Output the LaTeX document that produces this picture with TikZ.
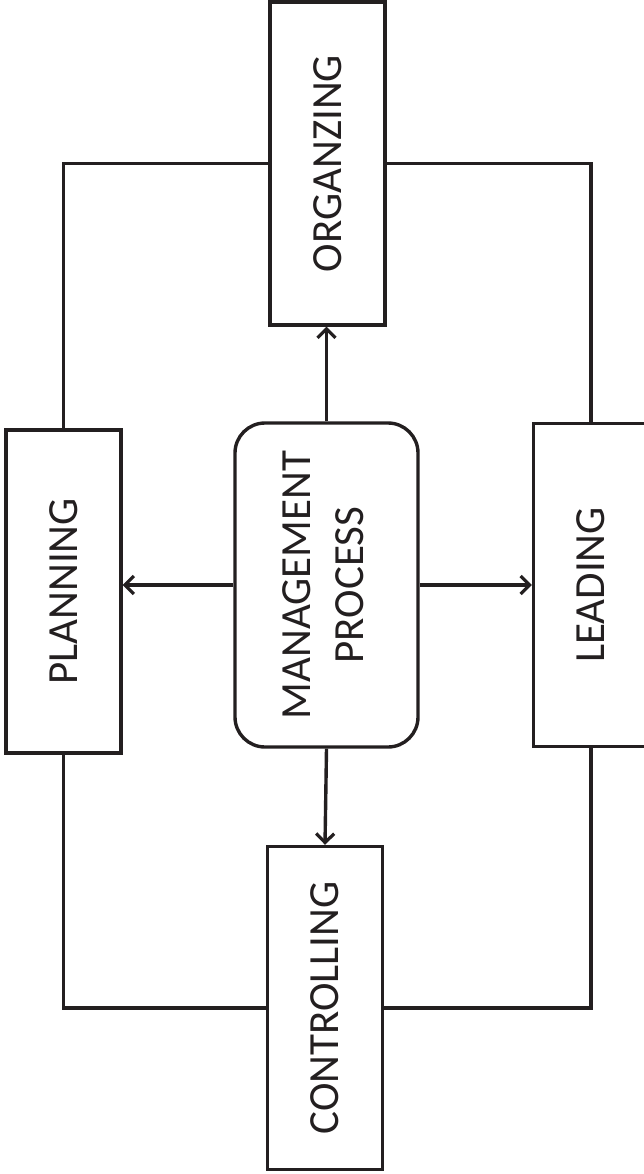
\documentclass[tikz,border=0pt]{standalone}
\usepackage{fontspec}
\setmainfont{Carlito}
\usepackage{graphicx}
\usetikzlibrary{arrows.meta}
\definecolor{ink}{HTML}{231F20}
\tikzset{
  box/.style={draw=ink, line width=3.4pt, inner sep=0pt, font=\fontsize{43}{53}\selectfont, text=ink},
  stage/.style={box, minimum width=115pt, minimum height=323pt},
  core/.style={box, rounded corners=30pt, minimum width=183pt, minimum height=324pt},
  link/.style={draw=ink, line width=3.4pt},
  flow/.style={link, -{Straight Barb[length=9pt,width=18pt,line width=3.2pt]}}
}
\begin{document}
\begin{tikzpicture}[x=1pt,y=-1pt]
  \useasboundingbox (0,0) rectangle (644,1174);
  \clip (0,0) rectangle (644,1174);
  % the four stages around the central process
  \node[stage] (org)  at (327.5,163.5) {\rotatebox{90}{ORGANZING}};
  \node[stage] (plan) at (63.5,591.5)  {\rotatebox{90}{PLANNING}};
  \node[stage] (lead) at (591,585)     {\rotatebox{90}{LEADING}};
  \node[stage] (ctrl) at (325,1008)    {\rotatebox{90}{CONTROLLING}};
  \node[core]  (mp)   at (326.5,585)
    {\rotatebox{90}{\begin{tabular}{@{}c@{}}MANAGEMENT\\PROCESS\end{tabular}}};
  % outer cycle linking the stages
  \draw[link] (org.west) -| (plan.north);
  \draw[link] (org.east) -| (lead.north);
  \draw[link] (ctrl.west) -| (plan.south);
  \draw[link] (ctrl.east) -| (lead.south);
  % arrows out of the central process
  \draw[flow] (mp.north) -- (mp.north |- org.south);
  \draw[flow] (mp.west) -- (mp.west -| plan.east);
  \draw[flow] (mp.east) -- (mp.east -| lead.west);
  \draw[flow] (mp.south) -- (ctrl.north);
\end{tikzpicture}
\end{document}
